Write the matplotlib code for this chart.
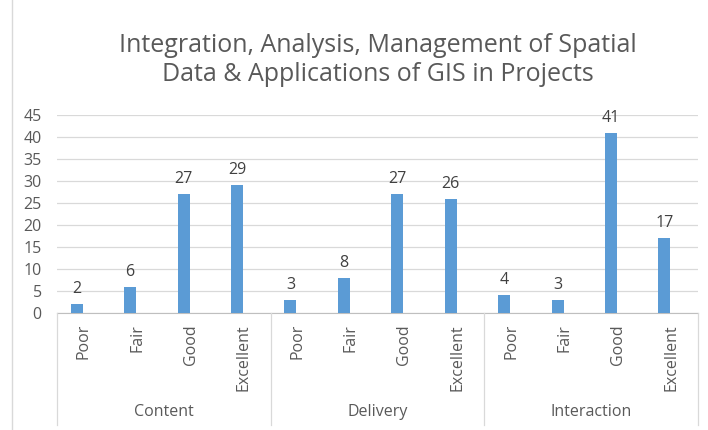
import matplotlib
matplotlib.use("Agg")
import matplotlib.pyplot as plt
from matplotlib.lines import Line2D
import matplotlib.transforms as mtransforms

groups = ["Content", "Delivery", "Interaction"]
ratings = ["Poor", "Fair", "Good", "Excellent"]
content = [2, 6, 27, 29]
delivery = [3, 8, 27, 26]
interaction = [4, 3, 41, 17]
yticks = [0, 5, 10, 15, 20, 25, 30, 35, 40, 45]
title = "Integration, Analysis, Management of Spatial\nData & Applications of GIS in Projects"

plt.rcParams['font.family'] = ['Open Sans', 'DejaVu Sans']
W, H = 708, 430
fig = plt.figure(figsize=(W / 100, H / 100), dpi=100)
L, R, T, B = 57, 698, 115, 313
ax = fig.add_axes([L / W, 1 - B / H, (R - L) / W, (B - T) / H])

values = content + delivery + interaction
labels = ratings * len(groups)
x = list(range(len(values)))
bar_offset = -0.13
bx = [xi + bar_offset for xi in x]
bar_color = "#5b9bd5"
ax.bar(bx, values, width=0.225, color=bar_color, zorder=3)
for xi, v in zip(bx, values):
    ax.annotate(str(v), (xi, v), xytext=(0, 5), textcoords="offset points",
                ha="center", va="bottom", fontsize=11.5, color="#404040")

ax.set_xlim(-0.5, len(values) - 0.5)
ax.set_ylim(0, 45)
ax.set_yticks(yticks)
ax.yaxis.grid(True, color="#d9d9d9", linewidth=0.9, zorder=0)
ax.set_axisbelow(True)
for s in ["top", "right", "left"]:
    ax.spines[s].set_visible(False)
ax.spines["bottom"].set_color("#bfbfbf")
ax.tick_params(axis="y", length=0, labelsize=11.5, labelcolor="#595959", pad=11)
ax.set_xticks(x)
ax.set_xticklabels(labels, rotation=90, fontsize=11.5, color="#595959")
ax.tick_params(axis="x", length=0, pad=8)

# group separators and labels
trans = mtransforms.blended_transform_factory(ax.transData, fig.transFigure)
bottom_y = 1 - 425 / H
axis_y = 1 - B / H
n = len(ratings)
for g in range(len(groups) + 1):
    xs = g * n - 0.5
    fig.add_artist(Line2D([xs, xs], [axis_y, bottom_y], transform=trans,
                          color="#d9d9d9", linewidth=0.9))
for g, name in enumerate(groups):
    fig.text(g * n + (n - 1) / 2, 1 - 412 / H, name, transform=trans,
             ha="center", va="center", fontsize=11.5, color="#595959")

# chart border on the left
fig.add_artist(Line2D([12 / W, 12 / W], [0, 1], transform=fig.transFigure,
                      color="#d9d9d9", linewidth=1))

fig.text((L + R) / 2 / W, 1 - 60 / H, title, ha="center", va="center",
         fontsize=18, color="#595959", linespacing=1.2)

fig.savefig("out.png", dpi=100)
